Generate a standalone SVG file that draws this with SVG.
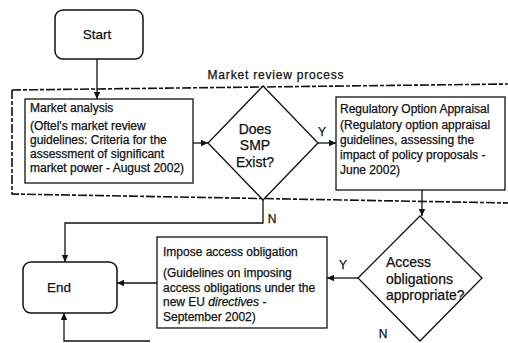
<svg xmlns="http://www.w3.org/2000/svg" width="508" height="343" viewBox="0 0 508 343">
<style>
  text { font-family: "Liberation Sans", Arial, sans-serif; fill: #111; stroke: #111; stroke-width: 0.25; }
  .t { font-size: 12px; }
  .big { font-size: 13.5px; }
  .dia { font-size: 14px; }
  .box { fill: #fff; stroke: #111; stroke-width: 1.3; }
  .rbox { fill: #fff; stroke: #111; stroke-width: 1.5; }
  .conn { fill: none; stroke: #111; stroke-width: 1.3; }
  .dash { fill: none; stroke: #111; stroke-width: 1.6; stroke-dasharray: 9 2 4 2; }
</style>
<defs>
  <marker id="ah" markerUnits="userSpaceOnUse" markerWidth="8" markerHeight="8" refX="7" refY="4" orient="auto">
    <path d="M0,0.8 L7,4 L0,7.2 Z" fill="#111"/>
  </marker>
</defs>
<rect width="508" height="343" fill="#fff"/>

<g id="process-group">
  <path class="dash" d="M12,90 L510,84 M12,90 L12,194 L510,203"/>
  <text class="t" x="276" y="79" text-anchor="middle" letter-spacing="0.8">Market review process</text>
</g>

<g id="connectors">
  <path class="conn" d="M97,59 V99" marker-end="url(#ah)"/>
  <path class="conn" d="M193,143 H208" marker-end="url(#ah)"/>
  <path class="conn" d="M318,143 H336" marker-end="url(#ah)"/>
  <path class="conn" d="M263,200 V223 H65 V262" marker-end="url(#ah)"/>
  <path class="conn" d="M422,190 V216" marker-end="url(#ah)"/>
  <path class="conn" d="M358,278 H327" marker-end="url(#ah)"/>
  <path class="conn" d="M157,283 H117" marker-end="url(#ah)"/>
  <path class="conn" d="M150,341 H64 V313" marker-end="url(#ah)"/>
  <text class="t" x="322" y="136" text-anchor="middle">Y</text>
  <text class="t" x="272" y="223" text-anchor="middle">N</text>
  <text class="t" x="343" y="269" text-anchor="middle">Y</text>
  <text class="t" x="383" y="338" text-anchor="middle">N</text>
</g>

<g id="start">
  <rect class="rbox" x="55" y="10" width="88" height="49" rx="8"/>
  <text class="big" x="97" y="39" text-anchor="middle">Start</text>
</g>

<g id="market-analysis">
  <rect class="box" x="25" y="99" width="168" height="84"/>
  <text class="t" x="30" y="112">Market analysis</text>
  <text class="t" x="30" y="130">(Oftel's market review</text>
  <text class="t" x="30" y="144">guidelines: Criteria for the</text>
  <text class="t" x="30" y="158">assessment of significant</text>
  <text class="t" x="30" y="172">market power - August 2002)</text>
</g>

<g id="smp-decision">
  <polygon class="box" points="263,86 318,143 263,200 208,143"/>
  <text class="dia" x="255" y="134" text-anchor="middle">Does</text>
  <text class="dia" x="255" y="150" text-anchor="middle">SMP</text>
  <text class="dia" x="255" y="167" text-anchor="middle">Exist?</text>
</g>

<g id="regulatory-option">
  <rect class="box" x="336" y="97" width="169" height="93"/>
  <text class="t" x="340" y="113">Regulatory Option Appraisal</text>
  <text class="t" x="340" y="129">(Regulatory option appraisal</text>
  <text class="t" x="340" y="144">guidelines, assessing the</text>
  <text class="t" x="340" y="159">impact of policy proposals -</text>
  <text class="t" x="340" y="174">June 2002)</text>
</g>

<g id="access-decision">
  <polygon class="box" points="420,216 482,278 420,341 358,278"/>
  <text class="dia" x="386" y="267">Access</text>
  <text class="dia" x="386" y="284">obligations</text>
  <text class="dia" x="386" y="300">appropriate?</text>
</g>

<g id="impose-access">
  <rect class="box" x="157" y="237" width="170" height="91"/>
  <text class="t" x="163" y="256">Impose access obligation</text>
  <text class="t" x="163" y="277">(Guidelines on imposing</text>
  <text class="t" x="163" y="292">access obligations under the</text>
  <text class="t" x="163" y="306">new EU <tspan font-style="italic">directives</tspan> -</text>
  <text class="t" x="163" y="321">September 2002)</text>
</g>

<g id="end">
  <rect class="rbox" x="23" y="262" width="94" height="51" rx="8"/>
  <text class="big" x="59" y="292" text-anchor="middle">End</text>
</g>
</svg>
